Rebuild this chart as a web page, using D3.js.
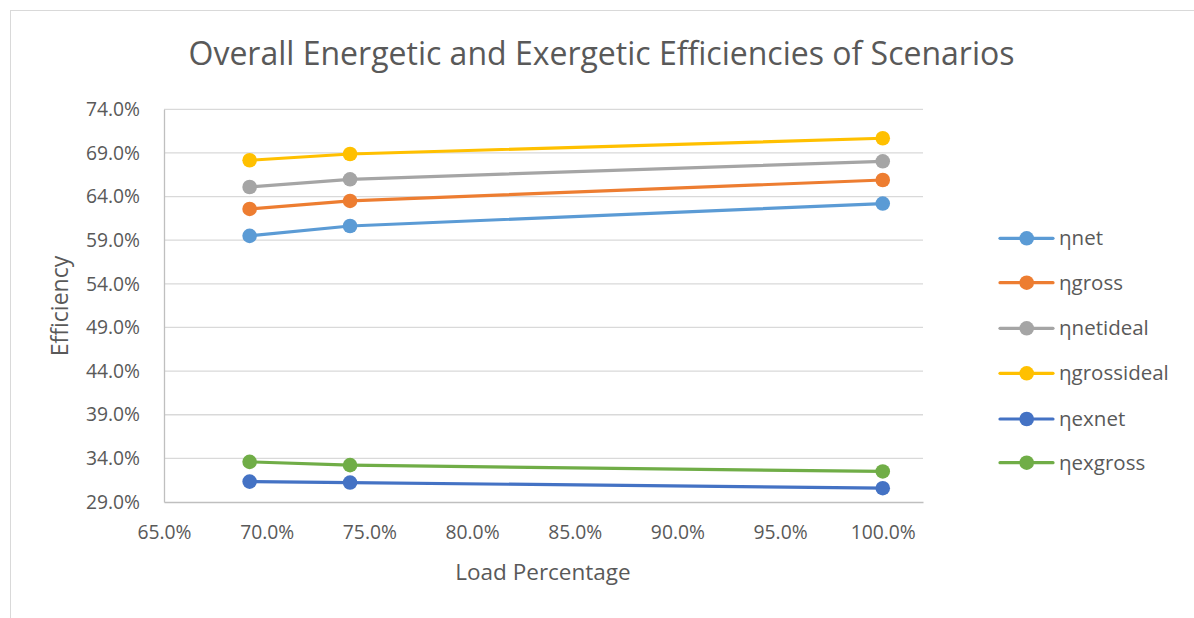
<!DOCTYPE html>
<html>
<head>
<meta charset="utf-8">
<script src="https://cdn.jsdelivr.net/npm/d3@7"></script>
<style>
  html, body { margin: 0; padding: 0; background: #fff; }
  svg { display: block; font-family: "Open Sans", sans-serif; }
</style>
</head>
<body>
<svg id="chart" width="1194" height="618"></svg>
<script>
const loads = [0.6917, 0.7406, 1.0];
const seriesNames = ["ηnet", "ηgross", "ηnetideal", "ηgrossideal", "ηexnet", "ηexgross"];
const etaNet        = [0.5950, 0.6063, 0.6320];
const etaGross      = [0.6258, 0.6350, 0.6590];
const etaNetIdeal   = [0.6510, 0.6598, 0.6804];
const etaGrossIdeal = [0.6816, 0.6888, 0.7068];
const etaExNet      = [0.3134, 0.3123, 0.3058];
const etaExGross    = [0.3360, 0.3322, 0.3250];
const seriesColors  = ["#5B9BD5", "#ED7D31", "#A5A5A5", "#FFC000", "#4472C4", "#70AD47"];
const xTicks = [0.65, 0.70, 0.75, 0.80, 0.85, 0.90, 0.95, 1.00];
const yTicks = [0.29, 0.34, 0.39, 0.44, 0.49, 0.54, 0.59, 0.64, 0.69, 0.74];
const titleText = "Overall Energetic and Exergetic Efficiencies of Scenarios";
const xTitle = "Load Percentage";
const yTitle = "Efficiency";

const allSeries = [etaNet, etaGross, etaNetIdeal, etaGrossIdeal, etaExNet, etaExGross];

const svg = d3.select("#chart");
const plot = { left: 164, right: 923, top: 109.3, bottom: 502 };

// chart border
svg.append("rect")
  .attr("x", 10.5).attr("y", 10.5)
  .attr("width", 1300).attr("height", 700)
  .attr("fill", "none").attr("stroke", "#D9D9D9").attr("stroke-width", 1);

const x = d3.scaleLinear().domain([0.65, 1.0196]).range([plot.left, plot.right]);
const y = d3.scaleLinear().domain([0.29, 0.74]).range([plot.bottom, plot.top]);

// gridlines
svg.append("g")
  .selectAll("line").data(yTicks.slice(1)).join("line")
  .attr("x1", plot.left).attr("x2", plot.right)
  .attr("y1", d => y(d)).attr("y2", d => y(d))
  .attr("stroke", "#D9D9D9").attr("stroke-width", 1.3);

// axes
const fmt = d3.format(".1%");
const xAxis = d3.axisBottom(x).tickValues(xTicks).tickFormat(fmt).tickSize(0).tickPadding(23);
const gx = svg.append("g").attr("transform", `translate(0,${plot.bottom})`).call(xAxis);
gx.select(".domain").attr("stroke", "#BFBFBF").attr("stroke-width", 1.3);
gx.selectAll("text").attr("fill", "#595959").attr("font-size", 19.3)
  .attr("font-family", "Open Sans, sans-serif");

const yAxis = d3.axisLeft(y).tickValues(yTicks).tickFormat(fmt).tickSize(0).tickPadding(24);
const gy = svg.append("g").attr("transform", `translate(${plot.left},0)`).call(yAxis);
gy.select(".domain").attr("stroke", "#BFBFBF").attr("stroke-width", 1.3);
gy.selectAll("text").attr("fill", "#595959").attr("font-size", 19.3)
  .attr("font-family", "Open Sans, sans-serif");

// lines and markers
const line = d3.line().x((d, i) => x(loads[i])).y(d => y(d));
allSeries.forEach((vals, si) => {
  const g = svg.append("g");
  g.append("path").datum(vals).attr("d", line)
    .attr("fill", "none").attr("stroke", seriesColors[si])
    .attr("stroke-width", 3.2).attr("stroke-linejoin", "round").attr("stroke-linecap", "round");
  g.selectAll("circle").data(vals).join("circle")
    .attr("cx", (d, i) => x(loads[i])).attr("cy", d => y(d))
    .attr("r", 7.3).attr("fill", seriesColors[si]);
});

// title
svg.append("text").attr("x", 601.5).attr("y", 64.5).attr("text-anchor", "middle")
  .attr("font-size", 32).attr("fill", "#595959").text(titleText);

// axis titles
svg.append("text").attr("x", 543).attr("y", 580).attr("text-anchor", "middle")
  .attr("font-size", 22.5).attr("fill", "#595959").text(xTitle);
svg.append("text").attr("transform", "translate(68,306) rotate(-90)").attr("text-anchor", "middle")
  .attr("font-size", 23).attr("fill", "#595959").text(yTitle);

// legend
const legY = [238.3, 282.7, 328.3, 373.3, 419, 462.7];
const leg = svg.append("g");
seriesNames.forEach((name, i) => {
  const row = leg.append("g").attr("transform", `translate(0,${legY[i]})`);
  row.append("line").attr("x1", 1000).attr("x2", 1053).attr("y1", 0).attr("y2", 0)
    .attr("stroke", seriesColors[i]).attr("stroke-width", 3.2).attr("stroke-linecap", "round");
  row.append("circle").attr("cx", 1026.7).attr("cy", 0).attr("r", 7.3).attr("fill", seriesColors[i]);
  row.append("text").attr("x", 1059).attr("y", 0).attr("dy", "0.35em")
    .attr("font-size", 20.5).attr("fill", "#595959").text(name);
});
</script>
</body>
</html>
